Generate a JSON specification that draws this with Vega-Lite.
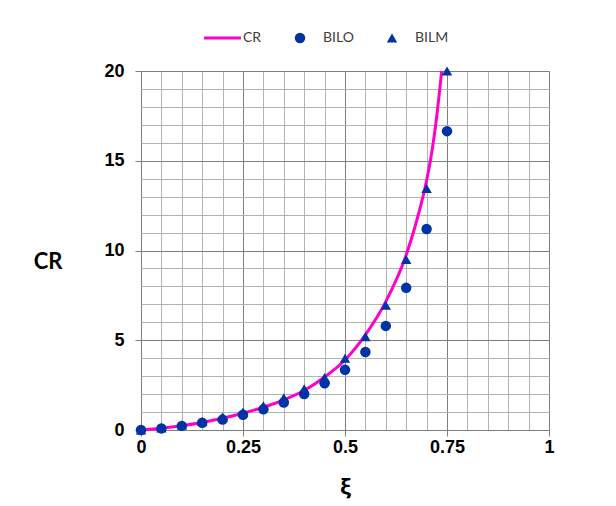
{
  "$schema": "https://vega.github.io/schema/vega-lite/v6.json",
  "width": 408,
  "height": 359,
  "autosize": {"type": "none"},
  "padding": {"left": 141, "top": 71, "right": 67, "bottom": 76},
  "background": "white",
  "data": {
    "values": [
      {"series": "CR", "xi": 0, "v": 0},
      {"series": "CR", "xi": 0.05, "v": 0.1},
      {"series": "CR", "xi": 0.1, "v": 0.24},
      {"series": "CR", "xi": 0.15, "v": 0.42},
      {"series": "CR", "xi": 0.2, "v": 0.65},
      {"series": "CR", "xi": 0.25, "v": 0.93},
      {"series": "CR", "xi": 0.3, "v": 1.27},
      {"series": "CR", "xi": 0.35, "v": 1.68},
      {"series": "CR", "xi": 0.4, "v": 2.2},
      {"series": "CR", "xi": 0.45, "v": 2.95},
      {"series": "CR", "xi": 0.5, "v": 3.9},
      {"series": "CR", "xi": 0.55, "v": 5.3},
      {"series": "CR", "xi": 0.6, "v": 7.15},
      {"series": "CR", "xi": 0.65, "v": 9.75},
      {"series": "CR", "xi": 0.67, "v": 11.2},
      {"series": "CR", "xi": 0.69, "v": 12.9},
      {"series": "CR", "xi": 0.7, "v": 13.9},
      {"series": "CR", "xi": 0.71, "v": 15.1},
      {"series": "CR", "xi": 0.72, "v": 16.6},
      {"series": "CR", "xi": 0.73, "v": 18.5},
      {"series": "CR", "xi": 0.737, "v": 20},
      {"series": "BILO", "xi": 0, "v": 0},
      {"series": "BILO", "xi": 0.05, "v": 0.09},
      {"series": "BILO", "xi": 0.1, "v": 0.23},
      {"series": "BILO", "xi": 0.15, "v": 0.4},
      {"series": "BILO", "xi": 0.2, "v": 0.58},
      {"series": "BILO", "xi": 0.25, "v": 0.85},
      {"series": "BILO", "xi": 0.3, "v": 1.15},
      {"series": "BILO", "xi": 0.35, "v": 1.53},
      {"series": "BILO", "xi": 0.4, "v": 2.0},
      {"series": "BILO", "xi": 0.45, "v": 2.6},
      {"series": "BILO", "xi": 0.5, "v": 3.35},
      {"series": "BILO", "xi": 0.55, "v": 4.35},
      {"series": "BILO", "xi": 0.6, "v": 5.8},
      {"series": "BILO", "xi": 0.65, "v": 7.92},
      {"series": "BILO", "xi": 0.7, "v": 11.2},
      {"series": "BILO", "xi": 0.75, "v": 16.65},
      {"series": "BILM", "xi": 0, "v": 0},
      {"series": "BILM", "xi": 0.05, "v": 0.12},
      {"series": "BILM", "xi": 0.1, "v": 0.28},
      {"series": "BILM", "xi": 0.15, "v": 0.47},
      {"series": "BILM", "xi": 0.2, "v": 0.72},
      {"series": "BILM", "xi": 0.25, "v": 1.0},
      {"series": "BILM", "xi": 0.3, "v": 1.35},
      {"series": "BILM", "xi": 0.35, "v": 1.8},
      {"series": "BILM", "xi": 0.4, "v": 2.3},
      {"series": "BILM", "xi": 0.45, "v": 2.92},
      {"series": "BILM", "xi": 0.5, "v": 4.0},
      {"series": "BILM", "xi": 0.55, "v": 5.2},
      {"series": "BILM", "xi": 0.6, "v": 6.95},
      {"series": "BILM", "xi": 0.65, "v": 9.5},
      {"series": "BILM", "xi": 0.7, "v": 13.45},
      {"series": "BILM", "xi": 0.75, "v": 20}
    ]
  },
  "encoding": {
    "x": {
      "field": "xi",
      "type": "quantitative",
      "scale": {"domain": [0, 1], "nice": false, "zero": true},
      "axis": {
        "values": [0, 0.05, 0.1, 0.15, 0.2, 0.25, 0.3, 0.35, 0.4, 0.45, 0.5, 0.55, 0.6, 0.65, 0.7, 0.75, 0.8, 0.85, 0.9, 0.95, 1],
        "labelExpr": "abs(datum.value * 4 - round(datum.value * 4)) < 0.000001 ? ('' + datum.value) : ''",
        "grid": true,
        "gridColor": {"condition": {"test": "abs(datum.value * 4 - round(datum.value * 4)) < 0.000001", "value": "#7f7f7f"}, "value": "#b3b3b3"},
        "gridWidth": 1,
        "tickOpacity": {"condition": {"test": "abs(datum.value * 4 - round(datum.value * 4)) < 0.000001", "value": 1}, "value": 0},
        "tickColor": "#7f7f7f",
        "tickSize": 6,
        "domain": false,
        "labelFlush": false,
        "labelOverlap": false,
        "labelBound": false,
        "labelFont": "Liberation Sans",
        "labelFontSize": 18,
        "labelFontWeight": "bold",
        "labelColor": "#000000",
        "labelPadding": 2,
        "title": "ξ",
        "titleFont": "Open Sans",
        "titleFontSize": 22,
        "titleFontWeight": "bold",
        "titleColor": "#000000",
        "titleY": 56,
        "titleBaseline": "middle"
      }
    },
    "y": {
      "field": "v",
      "type": "quantitative",
      "scale": {"domain": [0, 20], "nice": false},
      "axis": {
        "values": [0, 1, 2, 3, 4, 5, 6, 7, 8, 9, 10, 11, 12, 13, 14, 15, 16, 17, 18, 19, 20],
        "labelExpr": "datum.value % 5 === 0 ? ('' + datum.value) : ''",
        "grid": true,
        "gridColor": {"condition": {"test": "datum.value % 5 === 0", "value": "#7f7f7f"}, "value": "#b3b3b3"},
        "gridWidth": 1,
        "tickOpacity": {"condition": {"test": "datum.value % 5 === 0", "value": 1}, "value": 0},
        "tickColor": "#7f7f7f",
        "tickSize": 6,
        "domain": false,
        "labelFlush": false,
        "labelOverlap": false,
        "labelBound": false,
        "labelFont": "Liberation Sans",
        "labelFontSize": 18,
        "labelFontWeight": "bold",
        "labelColor": "#000000",
        "labelPadding": 11,
        "labelBaseline": "middle",
        "title": "CR",
        "titleAngle": 0,
        "titleFont": "Lato",
        "titleFontSize": 22,
        "titleFontWeight": "bold",
        "titleColor": "#000000",
        "titleX": -93.5,
        "titleY": 190,
        "titleAlign": "center",
        "titleBaseline": "middle"
      }
    }
  },
  "layer": [
    {
      "transform": [{"filter": "datum.series === 'CR'"}],
      "mark": {"type": "line", "color": "#FF00CC", "strokeWidth": 3, "interpolate": "monotone", "clip": false}
    },
    {
      "transform": [{"filter": "datum.series !== 'CR'"}],
      "mark": {"type": "point", "filled": true, "opacity": 1, "clip": false},
      "encoding": {
        "color": {
          "field": "series",
          "type": "nominal",
          "scale": {"domain": ["CR", "BILO", "BILM"], "range": ["#FF00CC", "#0033A6", "#0033A6"]},
          "legend": {
            "orient": "none",
            "legendX": 72,
            "legendY": -40,
            "direction": "horizontal",
            "title": null,
            "labelFont": "Lato",
            "labelFontSize": 14,
            "labelColor": "#404040",
            "labelOffset": 16,
            "columnPadding": 31,
            "padding": 0,
            "symbolStrokeWidth": 0
          }
        },
        "shape": {
          "field": "series",
          "type": "nominal",
          "scale": {"domain": ["CR", "BILO", "BILM"], "range": ["M-3.05,-0.3H4V0.3H-3.05Z", "circle", "triangle-up"]},
          "legend": {
            "orient": "none",
            "legendX": 72,
            "legendY": -40,
            "direction": "horizontal",
            "title": null,
            "labelFont": "Lato",
            "labelFontSize": 14,
            "labelColor": "#404040",
            "labelOffset": 16,
            "columnPadding": 31,
            "padding": 0,
            "symbolStrokeWidth": 0
          }
        },
        "size": {
          "field": "series",
          "type": "nominal",
          "scale": {"domain": ["CR", "BILO", "BILM"], "range": [110, 110, 150]},
          "legend": {
            "orient": "none",
            "legendX": 72,
            "legendY": -40,
            "direction": "horizontal",
            "title": null,
            "labelFont": "Lato",
            "labelFontSize": 14,
            "labelColor": "#404040",
            "labelOffset": 16,
            "columnPadding": 31,
            "padding": 0,
            "symbolStrokeWidth": 0
          }
        }
      }
    }
  ],
  "config": {
    "view": {"stroke": "#7f7f7f", "strokeWidth": 1}
  }
}
